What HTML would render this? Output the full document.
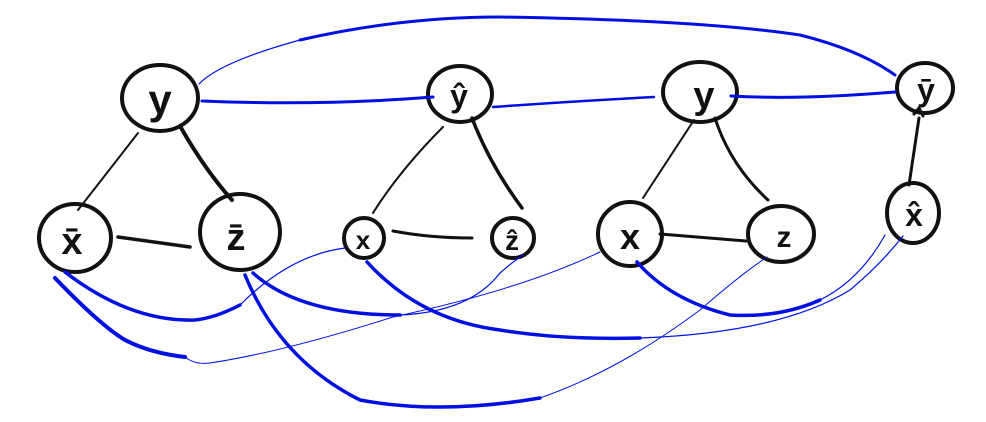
<!DOCTYPE html>
<html><head><meta charset="utf-8"><style>
html,body{margin:0;padding:0;background:#fff;}
svg{display:block;}
text{font-family:"Liberation Sans",sans-serif;fill:#111;text-anchor:middle;font-weight:bold;}
</style></head><body>
<svg width="986" height="422" viewBox="0 0 986 422" xmlns="http://www.w3.org/2000/svg">
<g fill="none" stroke="#111" stroke-linecap="round">
<ellipse cx="160" cy="98" rx="38" ry="33" stroke-width="4"/>
<ellipse cx="75" cy="238" rx="36" ry="34" stroke-width="4"/>
<ellipse cx="240" cy="232" rx="40" ry="38" stroke-width="4"/>
<ellipse cx="460" cy="94" rx="32" ry="28" stroke-width="4"/>
<ellipse cx="364" cy="238" rx="20" ry="20" stroke-width="4"/>
<ellipse cx="513" cy="238" rx="21" ry="20" stroke-width="4"/>
<ellipse cx="700" cy="92" rx="37" ry="30" stroke-width="4"/>
<ellipse cx="630" cy="234" rx="32" ry="32" stroke-width="4"/>
<ellipse cx="781" cy="234" rx="33" ry="28" stroke-width="4"/>
<ellipse cx="925" cy="88" rx="28" ry="25" stroke-width="4"/>
<ellipse cx="913" cy="213" rx="26" ry="30" stroke-width="4"/>
<path d="M138 133 L78 210" stroke-width="2"/>
<path d="M180 126 Q205 170 232 200" stroke-width="4"/>
<path d="M118 237 L190 247" stroke-width="3.5"/>
<path d="M443 127 Q400 170 373 213" stroke-width="2"/>
<path d="M472 118 Q490 165 522 208" stroke-width="3.5"/>
<path d="M393 231 Q430 238 472 238" stroke-width="3"/>
<path d="M694 120 L643 198" stroke-width="2"/>
<path d="M715 118 Q730 165 768 200" stroke-width="3"/>
<path d="M660 234 L746 241" stroke-width="3"/>
<path d="M909 185 L919 118" stroke-width="3"/>
<path d="M914 114 L919 108 L923 116" stroke-width="3"/>
</g>
<g fill="none" stroke="#0010e0" stroke-linecap="round">
<path d="M199 84 Q220 62 300 40" stroke-width="1.2"/>
<path d="M300 40 Q400 17 500 17 Q700 20 800 35 Q860 50 895 75" stroke-width="3"/>
<path d="M202 101 Q320 106 433 97" stroke-width="3"/>
<path d="M493 107 Q560 102 654 97" stroke-width="2.5"/>
<path d="M731 96 Q800 100 895 92" stroke-width="3"/>
<path d="M65 272 Q130 322 195 320 Q215 318 240 305" stroke-width="3.5"/>
<path d="M240 305 Q290 255 345 248" stroke-width="1.2"/>
<path d="M55 278 Q100 325 125 340 Q150 353 185 357" stroke-width="4"/>
<path d="M185 357 Q195 365 210 363 Q283 352 393 317 Q520 290 600 252" stroke-width="1"/>
<path d="M245 275 Q280 360 360 400 Q440 415 540 398" stroke-width="3.5"/>
<path d="M540 398 Q620 370 700 310 Q740 275 767 257" stroke-width="1"/>
<path d="M253 273 Q300 315 400 315" stroke-width="3.5"/>
<path d="M400 315 Q470 312 500 273 Q515 260 523 255" stroke-width="1.2"/>
<path d="M367 262 Q420 320 500 330 Q560 340 640 338" stroke-width="3.5"/>
<path d="M640 338 Q780 333 850 290 Q880 265 903 236" stroke-width="1.2"/>
<path d="M637 262 Q670 300 730 315 Q780 318 820 300" stroke-width="3.5"/>
<path d="M820 300 Q860 280 885 235" stroke-width="1.2"/>
</g>
<text x="160" y="114" font-size="42">y</text>
<text x="72" y="254" font-size="38">x̄</text>
<text x="236" y="250" font-size="38">z̄</text>
<text x="459" y="107" font-size="32">ŷ</text>
<text x="363" y="249" font-size="26">x</text>
<text x="512" y="250" font-size="28">ẑ</text>
<text x="704" y="108" font-size="38">y</text>
<text x="630" y="249" font-size="36">x</text>
<text x="784" y="247" font-size="30">z</text>
<text x="926" y="101" font-size="32">ȳ</text>
<text x="914" y="226" font-size="32">x̂</text>
</svg>
</body></html>
